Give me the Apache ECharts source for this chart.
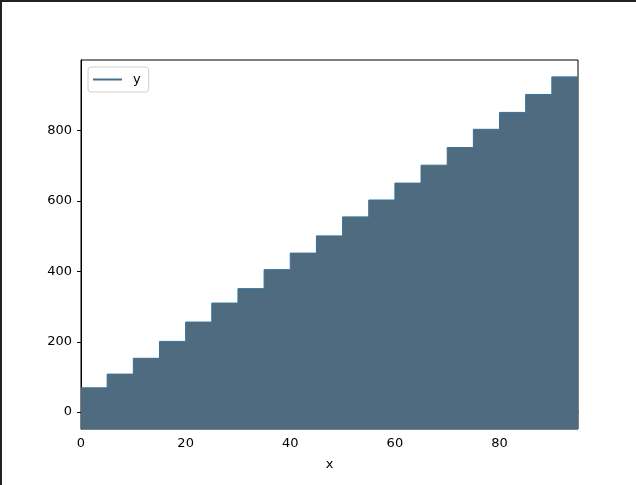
<!DOCTYPE html>
<html>
<head>
<meta charset="utf-8">
<script src="https://cdn.jsdelivr.net/npm/echarts@6/dist/echarts.min.js"></script>
<style>
    html, body { margin: 0; padding: 0; background: #fff; }
    #chart { position: absolute; left: 0; top: 0; width: 636px; height: 485px; }
    #frame { position: absolute; left: 0; top: 0; width: 634px; height: 483px;
             border-left: 2px solid #222; border-top: 2px solid #222; pointer-events: none; }
</style>
</head>
<body>
<div id="chart"></div>
<div id="frame"></div>
<script>
// step positions (x) and step heights (y)
const xValues = [0, 5, 10, 15, 20, 25, 30, 35, 40, 45, 50, 55, 60, 65, 70, 75, 80, 85, 90, 95];
const yValues = [69, 108, 153, 201, 256, 310, 351, 405, 452, 501, 555, 603, 651, 702, 752, 804, 852, 903, 953, 953];
const xTicks = [0, 20, 40, 60, 80];
const yTicks = [0, 200, 400, 600, 800];

const points = xValues.map(function (x, i) {
    return [x, yValues[i]];
});

const chart = echarts.init(document.getElementById('chart'));
const font = 'DejaVu Sans';

const options = {
    animation: false,
    grid: {
        left: 81,
        right: 58,
        top: 60,
        bottom: 56,
        show: true,
        borderColor: '#000',
        borderWidth: 1,
        backgroundColor: 'transparent'
    },
    legend: {
        left: 88,
        top: 67,
        padding: [6, 8, 6, 5],
        borderColor: '#d0d0d0',
        borderWidth: 1,
        borderRadius: 3,
        backgroundColor: 'rgba(255,255,255,0.8)',
        icon: 'rect',
        itemWidth: 29,
        itemHeight: 2,
        textStyle: {
            fontFamily: font,
            fontSize: 13,
            color: '#000',
            padding: [0, 0, 0, 6]
        },
        data: [{
            name: 'y',
            itemStyle: { color: '#44708f' }
        }]
    },
    xAxis: {
        type: 'value',
        min: 0,
        max: 95,
        name: 'x',
        nameLocation: 'middle',
        nameGap: 29,
        nameTextStyle: { fontFamily: font, fontSize: 13, color: '#000' },
        axisLine: { show: true, lineStyle: { color: '#000', width: 1 } },
        axisTick: { show: true, length: 4, lineStyle: { color: '#000' }, customValues: xTicks },
        axisLabel: { fontFamily: font, fontSize: 13, color: '#000', margin: 8, customValues: xTicks },
        splitLine: { show: false }
    },
    yAxis: {
        type: 'value',
        min: -48,
        max: 1001,
        axisLine: { show: true, lineStyle: { color: '#000', width: 1 } },
        axisTick: { show: true, length: 4, lineStyle: { color: '#000' }, customValues: yTicks },
        axisLabel: { fontFamily: font, fontSize: 13, color: '#000', margin: 9, customValues: yTicks },
        splitLine: { show: false }
    },
    series: [
        {
            name: 'y',
            type: 'line',
            step: 'end',
            showSymbol: false,
            z: 2,
            lineStyle: { color: '#1f77b4', width: 1 },
            itemStyle: { color: '#1f77b4' },
            data: points
        },
        {
            name: 'fill',
            type: 'line',
            step: 'end',
            showSymbol: false,
            z: 3,
            lineStyle: { width: 0 },
            itemStyle: { color: '#4f6b80' },
            areaStyle: { color: '#4f6b80', opacity: 1, origin: 'start' },
            data: points
        }
    ]
};

chart.setOption(options);
</script>
</body>
</html>
